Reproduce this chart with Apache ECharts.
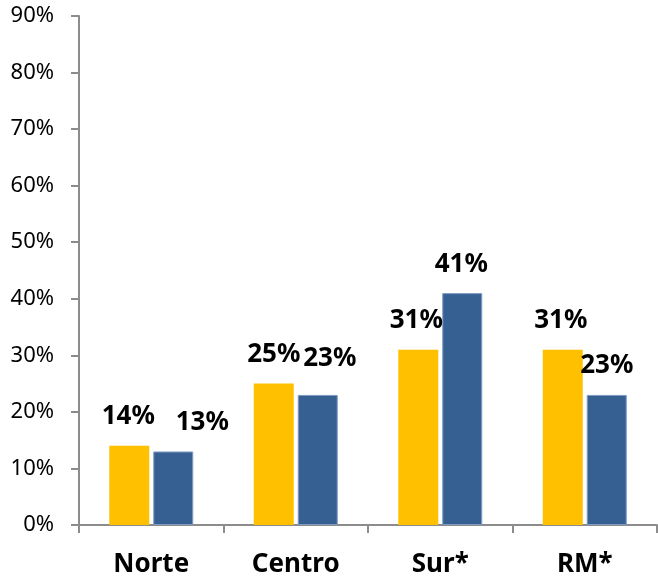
<!DOCTYPE html>
<html>
<head>
<meta charset="utf-8">
<script src="https://cdn.jsdelivr.net/npm/echarts@6/dist/echarts.min.js"></script>
<style>
  html, body { margin: 0; padding: 0; background: #fff; }
  #chart { width: 658px; height: 580px; }
</style>
</head>
<body>
<div id="chart"></div>
<script>
const categories = ['Norte', 'Centro', 'Sur*', 'RM*'];
const serieAmarilla = [14, 25, 31, 31];
const serieAzul = [13, 23, 41, 23];
const yTicks = [0, 10, 20, 30, 40, 50, 60, 70, 80, 90];

// desplazamiento manual de etiquetas (como en la planilla original)
const offsetAmarilla = [[-1, 0], [0, 0], [-2, 0], [-2, 0]];
const offsetAzul = [[29, 0], [12, -7], [-1, 0], [0, 0]];

function buildData(values, offsets) {
  return values.map((v, i) => ({
    value: v,
    label: { offset: offsets[i] }
  }));
}

const labelStyle = {
  show: true,
  position: 'top',
  distance: 16,
  formatter: '{c}%',
  fontFamily: 'Noto Sans',
  fontWeight: 'bold',
  fontSize: 26,
  color: '#000'
};

const chart = echarts.init(document.getElementById('chart'));
const option = {
  animation: false,
  grid: { left: 79, right: 1, top: 16, bottom: 55 },
  xAxis: {
    type: 'category',
    data: categories,
    axisLine: { lineStyle: { color: '#8c8c8c', width: 2 } },
    axisTick: { show: true, length: 8, lineStyle: { color: '#8c8c8c', width: 2 } },
    axisLabel: {
      margin: 27,
      fontFamily: 'Noto Sans',
      fontWeight: 'bold',
      fontSize: 26,
      color: '#000'
    }
  },
  yAxis: {
    type: 'value',
    min: yTicks[0],
    max: yTicks[yTicks.length - 1],
    interval: 10,
    axisLine: { show: true, lineStyle: { color: '#8c8c8c', width: 2 } },
    axisTick: { show: true, length: 8, lineStyle: { color: '#8c8c8c', width: 2 } },
    splitLine: { show: false },
    axisLabel: {
      margin: 25,
      formatter: '{value}%',
      fontFamily: 'Noto Sans',
      fontSize: 22,
      color: '#000'
    }
  },
  series: [
    {
      name: 'Serie 1',
      type: 'bar',
      data: buildData(serieAmarilla, offsetAmarilla),
      barWidth: 40,
      barGap: '10%',
      itemStyle: { color: '#FFC000' },
      label: labelStyle
    },
    {
      name: 'Serie 2',
      type: 'bar',
      data: buildData(serieAzul, offsetAzul),
      barWidth: 40,
      itemStyle: { color: '#376092', borderColor: '#7f9cc4', borderWidth: 1 },
      label: labelStyle
    }
  ]
};
chart.setOption(option);
</script>
</body>
</html>
